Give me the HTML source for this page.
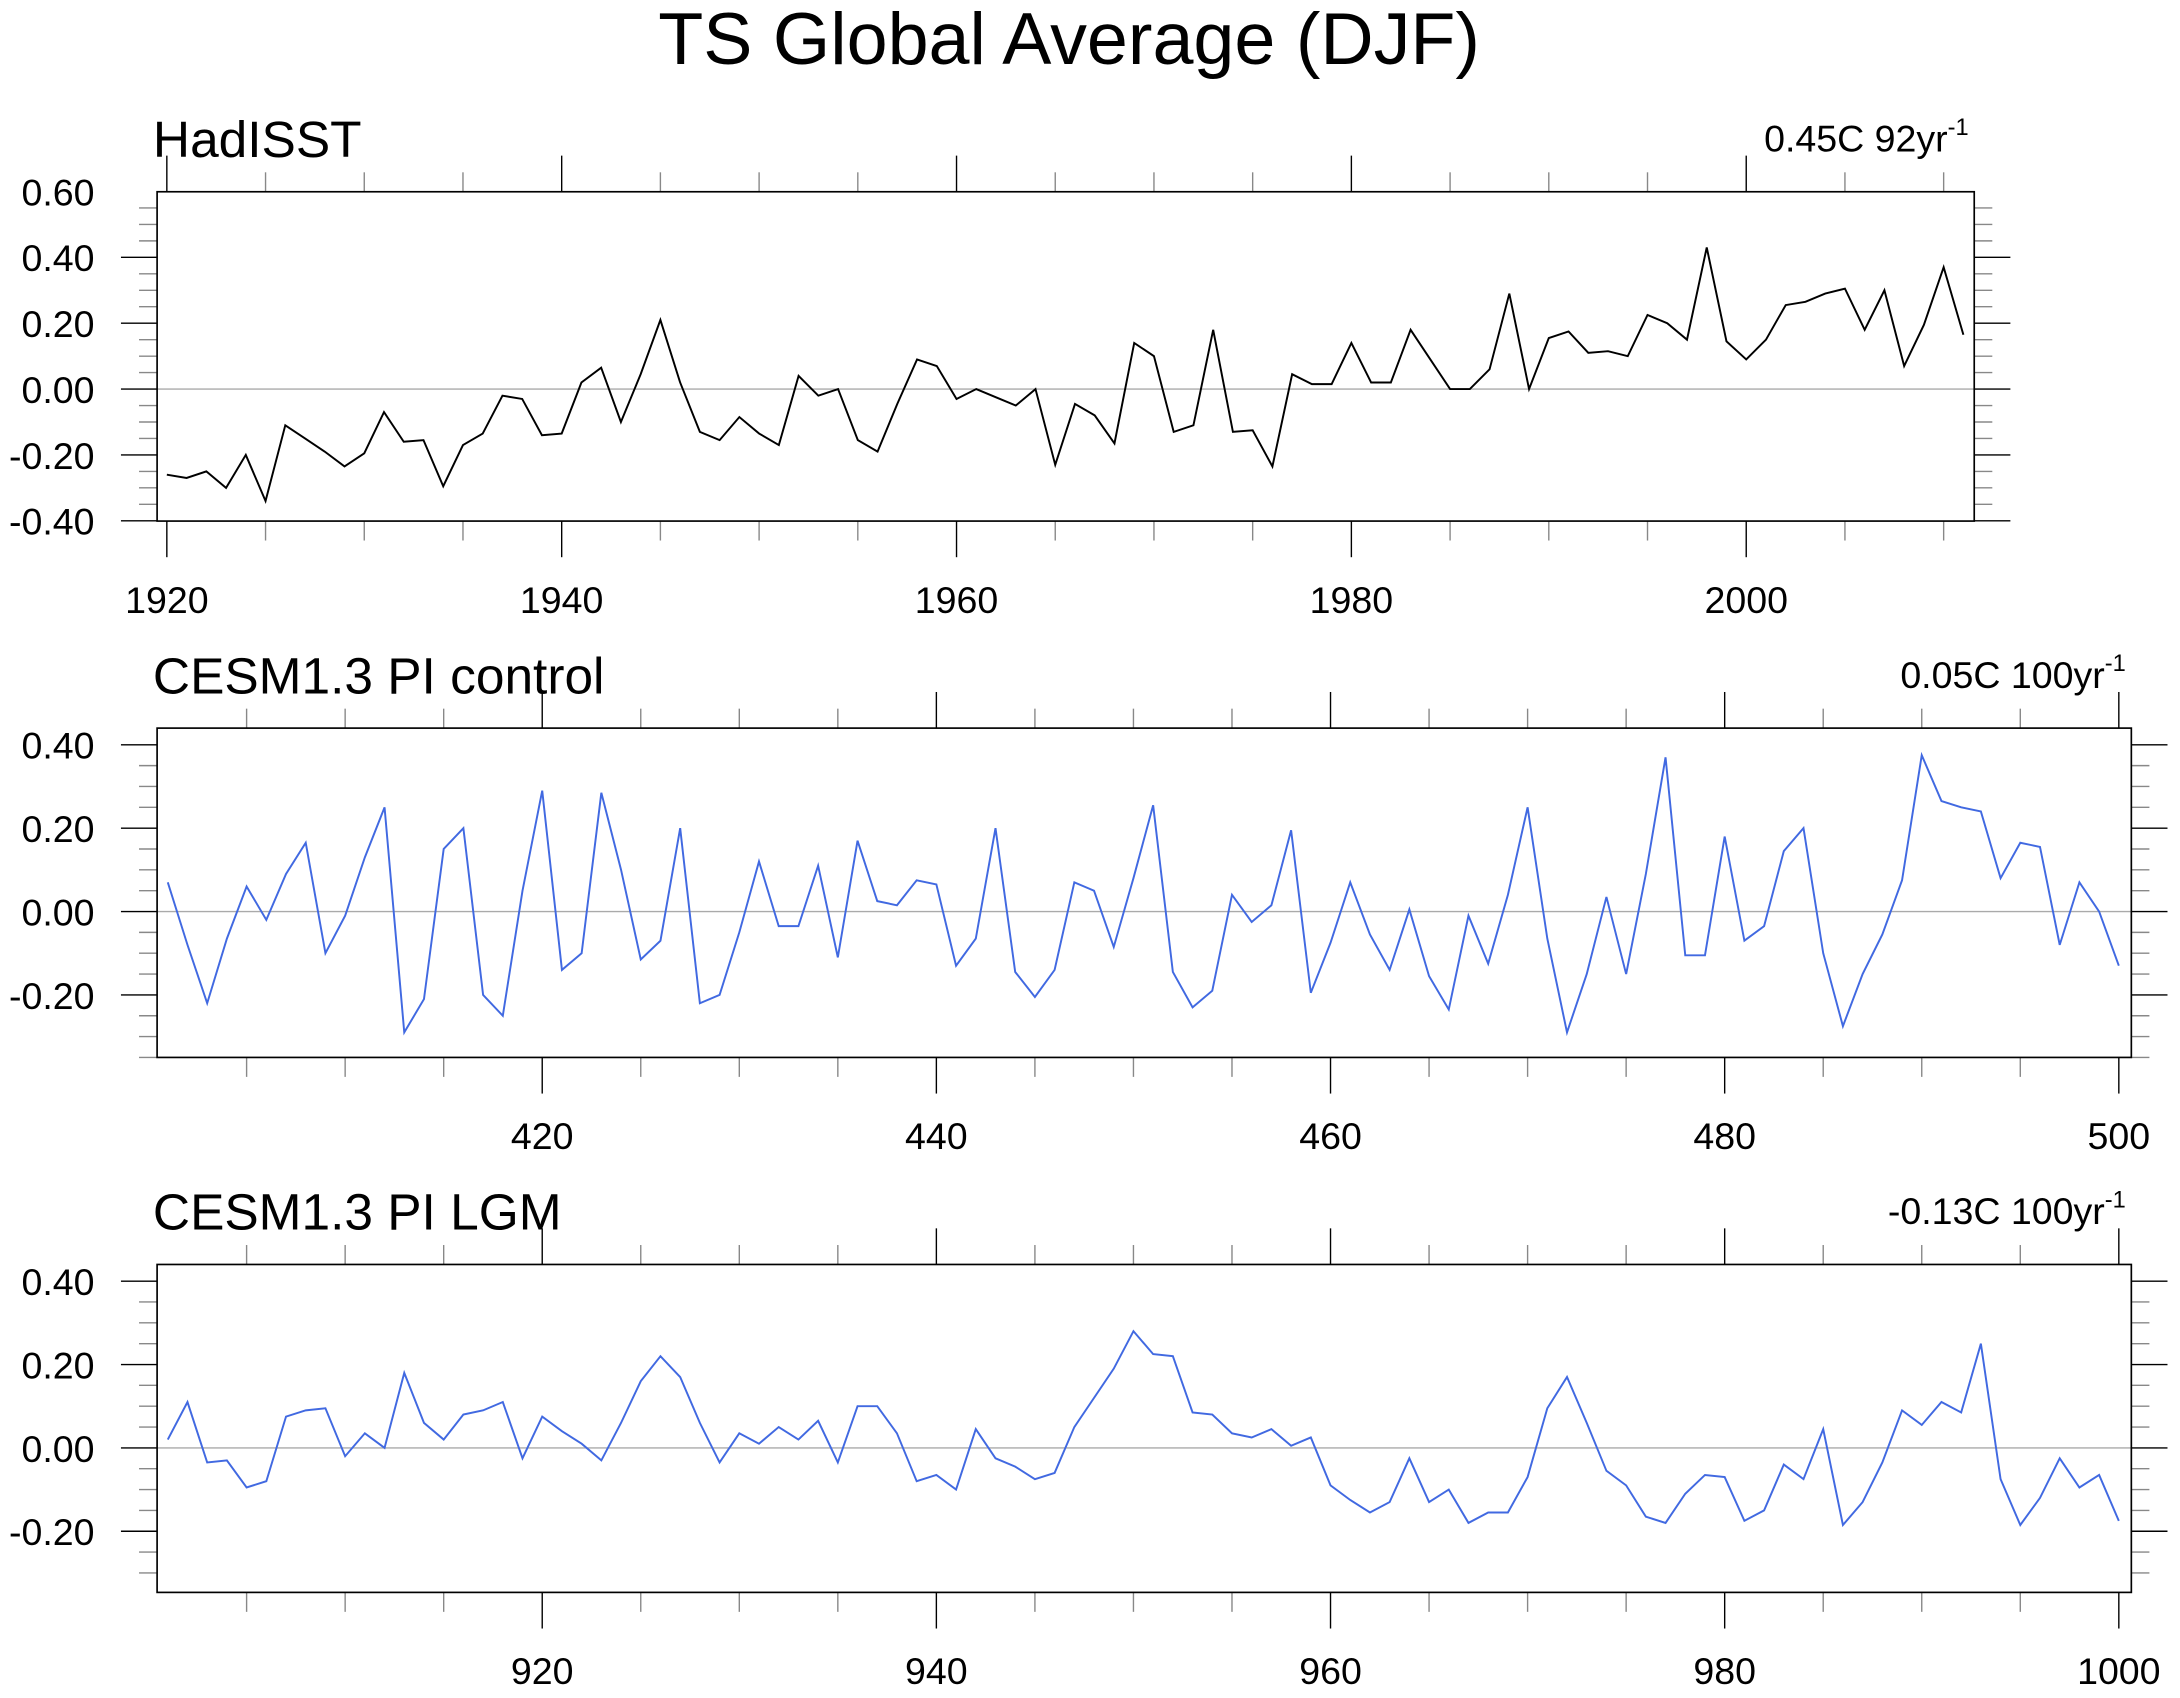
<!DOCTYPE html>
<html><head><meta charset="utf-8"><style>
html,body{margin:0;padding:0;background:#fff;}
svg{display:block;}
text{font-family:"Liberation Sans",sans-serif;fill:#000;}
</style></head><body>
<svg id="chart" xmlns="http://www.w3.org/2000/svg" width="2180" height="1698" viewBox="0 0 1568 1222" preserveAspectRatio="none">
<text x="769" y="46" font-size="53" text-anchor="middle">TS Global Average (DJF)</text>
</svg>
<script>
const hadYears0 = 1920;
const hadValues = [-0.26,-0.27,-0.25,-0.30,-0.20,-0.34,-0.11,-0.15,-0.19,-0.235,-0.195,-0.07,-0.16,-0.155,-0.295,-0.17,-0.135,-0.02,-0.03,-0.14,-0.135,0.02,0.065,-0.10,0.045,0.21,0.02,-0.13,-0.155,-0.085,-0.135,-0.17,0.04,-0.02,0.00,-0.155,-0.19,-0.045,0.09,0.07,-0.03,0.00,-0.025,-0.05,0.00,-0.23,-0.045,-0.08,-0.165,0.14,0.10,-0.13,-0.11,0.18,-0.13,-0.125,-0.235,0.045,0.015,0.015,0.14,0.02,0.02,0.18,0.09,0.00,0.00,0.06,0.29,0.00,0.155,0.175,0.11,0.115,0.10,0.225,0.20,0.15,0.43,0.145,0.09,0.15,0.255,0.265,0.29,0.305,0.18,0.30,0.07,0.195,0.37,0.165];
const ctlYears0 = 401;
const ctlValues = [0.07,-0.08,-0.22,-0.065,0.06,-0.02,0.09,0.165,-0.10,-0.01,0.13,0.25,-0.29,-0.21,0.15,0.20,-0.20,-0.25,0.05,0.29,-0.14,-0.10,0.285,0.10,-0.115,-0.07,0.20,-0.22,-0.20,-0.05,0.12,-0.035,-0.035,0.11,-0.11,0.17,0.025,0.015,0.075,0.065,-0.13,-0.065,0.20,-0.145,-0.205,-0.14,0.07,0.05,-0.085,0.08,0.255,-0.145,-0.23,-0.19,0.04,-0.025,0.015,0.195,-0.195,-0.075,0.07,-0.055,-0.14,0.005,-0.155,-0.235,-0.01,-0.125,0.04,0.25,-0.065,-0.29,-0.15,0.035,-0.15,0.09,0.37,-0.105,-0.105,0.18,-0.07,-0.035,0.145,0.20,-0.10,-0.275,-0.15,-0.055,0.075,0.375,0.265,0.25,0.24,0.08,0.165,0.155,-0.08,0.07,0.00,-0.13];
const lgmYears0 = 901;
const lgmValues = [0.02,0.11,-0.035,-0.03,-0.095,-0.08,0.075,0.09,0.095,-0.02,0.035,0.00,0.18,0.06,0.02,0.08,0.09,0.11,-0.025,0.075,0.04,0.01,-0.03,0.06,0.16,0.22,0.17,0.06,-0.035,0.035,0.01,0.05,0.02,0.065,-0.035,0.10,0.10,0.035,-0.08,-0.065,-0.10,0.045,-0.025,-0.045,-0.075,-0.06,0.05,0.12,0.19,0.28,0.225,0.22,0.085,0.08,0.035,0.025,0.045,0.005,0.025,-0.09,-0.125,-0.155,-0.13,-0.025,-0.13,-0.10,-0.18,-0.155,-0.155,-0.07,0.095,0.17,0.06,-0.055,-0.09,-0.165,-0.18,-0.11,-0.065,-0.07,-0.175,-0.15,-0.04,-0.075,0.045,-0.185,-0.13,-0.035,0.09,0.055,0.11,0.085,0.25,-0.075,-0.185,-0.12,-0.025,-0.095,-0.065,-0.175];
const hadXTicks = [1920,1940,1960,1980,2000];
const ctlXTicks = [420,440,460,480,500];
const lgmXTicks = [920,940,960,980,1000];
const hadYTicks = [0.6,0.4,0.2,0.0,-0.2,-0.4];
const simYTicks = [0.4,0.2,0.0,-0.2];

const svg = document.getElementById('chart');
const NS = 'http://www.w3.org/2000/svg';
function mk(tag, attrs, parent){const e=document.createElementNS(NS,tag);for(const k in attrs)e.setAttribute(k,attrs[k]);(parent||svg).appendChild(e);return e;}

function panel(o){
  const g = mk('g',{});
  
  
  const xs = v => o.xpx0 + (v - o.xv0) * o.xppu;
  const ys = v => o.y0px - v * o.yppu;
  const L=o.left,R=o.right,T=o.top,B=o.bottom;
  const z = mk('line',{x1:L,x2:R,y1:ys(0),y2:ys(0),stroke:'#aaa','stroke-width':1},g);
  
  
  const xmin = Math.ceil((L - o.xpx0)/o.xppu + o.xv0), xmax = Math.floor((R - o.xpx0)/o.xppu + o.xv0);
  for(let v=xmin; v<=xmax; v++){
    if(v%5!==0) continue;
    const major = v%20===0, x=xs(v);
    const len = major?26:14;
    mk('line',{x1:x,x2:x,y1:T,y2:T-len,stroke:major?'#000':'#888','stroke-width':1},g);
    mk('line',{x1:x,x2:x,y1:B,y2:B+len,stroke:major?'#000':'#888','stroke-width':1},g);
  }
  o.xticks.forEach(v=>{
    const t = mk('text',{x:xs(v),y:B+66,'font-size':27,'text-anchor':'middle'},g);
    t.textContent = v;
    
    
  });
  const ymin = Math.ceil((ys(0)-B)/o.yppu*20-1e-6), ymax=Math.floor((ys(0)-T)/o.yppu*20+1e-6);
  for(let k=ymin;k<=ymax;k++){
    const v=k/20, y=ys(v), major=(k%4===0);
    const len = major?26:13;
    mk('line',{x1:L,x2:L-len,y1:y,y2:y,stroke:major?'#000':'#888','stroke-width':1},g);
    mk('line',{x1:R,x2:R+len,y1:y,y2:y,stroke:major?'#000':'#888','stroke-width':1},g);
  }
  o.yticks.forEach(v=>{
    const t = mk('text',{x:L-45,y:ys(v)+10,'font-size':27,'text-anchor':'end'},g);
    t.textContent = v.toFixed(2);
    
    
  });
  const pts = o.values.map((v,i)=>xs(o.x0+i).toFixed(2)+','+ys(v).toFixed(2)).join(' ');
  const pl = mk('polyline',{points:pts,fill:'none',stroke:o.color,'stroke-width':1.4,'stroke-linejoin':'miter'},g);
  
  
  const fr = mk('rect',{x:L,y:T,width:R-L,height:B-T,fill:'none',stroke:'#000','stroke-width':1.2},g);
  
  
  const tt = mk('text',{x:110,y:T-25,'font-size':37},g);
  tt.textContent = o.title;
  
  
  const tr = mk('text',{x:R-4,y:T-29,'font-size':27,'text-anchor':'end'},g);
  
  
  tr.appendChild(document.createTextNode(o.trend+'yr'));
  const sup = mk('tspan',{'font-size':17,dy:-12},tr);
  sup.textContent='-1';
}
panel({name:'hadisst-panel',title:'HadISST',trend:'0.45C 92',values:hadValues,x0:hadYears0,xv0:1920,xpx0:120,xppu:14.2,left:113,right:1420,top:138,bottom:375,y0px:280,yppu:237,xticks:hadXTicks,yticks:hadYTicks,color:'#000'});
panel({name:'cesm-pi-control-panel',title:'CESM1.3 PI control',trend:'0.05C 100',values:ctlValues,x0:ctlYears0,xv0:420,xpx0:390,xppu:14.175,left:113,right:1533,top:524,bottom:761,y0px:656,yppu:300,xticks:ctlXTicks,yticks:simYTicks,color:'#4169e1'});
panel({name:'cesm-pi-lgm-panel',title:'CESM1.3 PI LGM',trend:'-0.13C 100',values:lgmValues,x0:lgmYears0,xv0:920,xpx0:390,xppu:14.175,left:113,right:1533,top:910,bottom:1146,y0px:1042,yppu:300,xticks:lgmXTicks,yticks:simYTicks,color:'#4169e1'});
</script>
</body></html>
